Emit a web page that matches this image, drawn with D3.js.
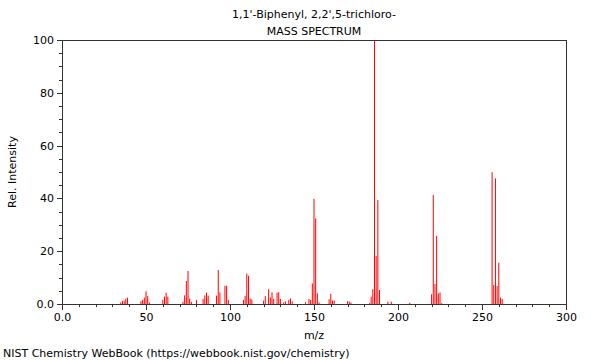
<!DOCTYPE html>
<html>
<head>
<meta charset="utf-8">
<script src="https://cdn.jsdelivr.net/npm/d3@7"></script>
<style>
  body { margin: 0; background: #fff; }
  text { font-family: "DejaVu Sans", sans-serif; fill: #000; }
</style>
</head>
<body>
<svg id="chart" width="600" height="360"></svg>
<script>
const titleLines = ["1,1'-Biphenyl, 2,2',5-trichloro-", "MASS SPECTRUM"];
const xLabel = "m/z";
const yLabel = "Rel. Intensity";
const footer = "NIST Chemistry WebBook (https://webbook.nist.gov/chemistry)";

const mz = [35, 36, 37, 38, 39, 47, 48, 49, 50, 51, 52,
  60, 61, 62, 63, 72, 73, 74, 75, 76, 77, 80, 84, 85, 86, 87,
  92, 93, 94, 97, 98, 99, 108, 109, 110, 111, 112, 113,
  120, 121, 123, 124, 125, 126, 128, 129, 130, 132, 133, 135, 136, 137,
  145, 147, 148, 149, 150, 151, 152, 153, 159, 160, 161, 162,
  170, 171, 172, 183, 184, 185, 186, 187, 188, 189, 194, 196, 207,
  220, 221, 222, 223, 224, 225, 226,
  256, 257, 258, 259, 260, 261, 262];
const intensity = [0.6, 1.1, 1.3, 2.0, 2.4, 1.1, 1.6, 2.4, 4.8, 3.0, 0.6,
  1.5, 2.8, 4.2, 2.8, 0.8, 3.3, 8.7, 12.5, 2.1, 0.8, 1.5, 1.9, 3.2, 4.3, 3.2,
  3.2, 12.9, 4.4, 6.9, 6.9, 1.5, 1.5, 3.1, 11.5, 10.7, 2.1, 1.7,
  1.3, 3.0, 5.6, 2.5, 4.4, 1.9, 4.3, 4.5, 1.9, 0.6, 1.0, 1.6, 2.1, 1.0,
  0.7, 1.9, 1.5, 7.8, 39.8, 32.4, 4.0, 0.6, 1.8, 3.8, 1.3, 1.3,
  1.1, 0.9, 0.5, 0.3, 2.8, 5.6, 100, 18.2, 39.4, 5.3, 0.9, 0.9, 0.5,
  3.7, 41.3, 7.6, 25.8, 4.0, 4.4, 0.3,
  49.9, 7.2, 47.6, 6.8, 15.6, 2.4, 1.9];

const xMajorTicks = [0, 50, 100, 150, 200, 250, 300];
const xMajorLabels = ["0.0", "50", "100", "150", "200", "250", "300"];
const yMajorTicks = [0, 20, 40, 60, 80, 100];
const yMajorLabels = ["0.0", "20", "40", "60", "80", "100"];

const svg = d3.select("#chart");
const margin = {left: 62, right: 34, top: 40, bottom: 56};
const W = 600, H = 360;
const x = d3.scaleLinear().domain([0, 300]).range([margin.left, W - margin.right]);
const y = d3.scaleLinear().domain([0, 100]).range([H - margin.bottom, margin.top]);

// peaks
const peaks = mz.map((m, i) => ({m, v: intensity[i]}));
svg.append("g").selectAll("line").data(peaks).join("line")
  .attr("x1", d => x(d.m)).attr("x2", d => x(d.m))
  .attr("y1", y(0)).attr("y2", d => y(d.v))
  .attr("stroke", "#ff0000").attr("stroke-width", 1);

const axisColor = "#333";
// frame
svg.append("rect")
  .attr("x", x(0)).attr("y", y(100))
  .attr("width", x(300) - x(0)).attr("height", y(0) - y(100))
  .attr("fill", "none").attr("stroke", axisColor).attr("stroke-width", 1)
  .attr("shape-rendering", "crispEdges");

// x axis: minor ticks every 10, major every 50
const xMinor = d3.range(0, 301, 10).filter(v => v % 50 !== 0);
const xAxisMinor = d3.axisBottom(x).tickValues(xMinor).tickSize(3).tickFormat("");
const xAxisMajor = d3.axisBottom(x).tickValues(xMajorTicks).tickSize(6)
  .tickFormat((d, i) => xMajorLabels[i]).tickPadding(3);
const gxm = svg.append("g").attr("transform", `translate(0,${y(0)})`).call(xAxisMinor);
const gx = svg.append("g").attr("transform", `translate(0,${y(0)})`).call(xAxisMajor);
[gxm, gx].forEach(g => {
  g.select(".domain").remove();
  g.selectAll("line").attr("stroke", axisColor).attr("shape-rendering", "crispEdges");
});
gx.selectAll("text").attr("font-size", 11).attr("font-family", "DejaVu Sans").attr("fill", "#000");

// y axis: minor every 5, major every 20
const yMinor = d3.range(0, 101, 5).filter(v => v % 20 !== 0);
const yAxisMinor = d3.axisLeft(y).tickValues(yMinor).tickSize(3).tickFormat("");
const yAxisMajor = d3.axisLeft(y).tickValues(yMajorTicks).tickSize(5)
  .tickFormat((d, i) => yMajorLabels[i]).tickPadding(3);
const gym = svg.append("g").attr("transform", `translate(${x(0)},0)`).call(yAxisMinor);
const gy = svg.append("g").attr("transform", `translate(${x(0)},0)`).call(yAxisMajor);
[gym, gy].forEach(g => {
  g.select(".domain").remove();
  g.selectAll("line").attr("stroke", axisColor).attr("shape-rendering", "crispEdges");
});
gy.selectAll("text").attr("font-size", 11).attr("font-family", "DejaVu Sans").attr("fill", "#000");

// titles
svg.selectAll(".title").data(titleLines).join("text")
  .attr("class", "title")
  .attr("x", (x(0) + x(300)) / 2).attr("y", (d, i) => 18 + i * 17)
  .attr("text-anchor", "middle").attr("font-size", 11)
  .text(d => d);

svg.append("text").attr("x", (x(0) + x(300)) / 2).attr("y", 339)
  .attr("text-anchor", "middle").attr("font-size", 11).text(xLabel);

svg.append("text")
  .attr("transform", `translate(16,${(y(0) + y(100)) / 2}) rotate(-90)`)
  .attr("text-anchor", "middle").attr("font-size", 11).text(yLabel);

svg.append("text").attr("x", 3).attr("y", 357)
  .attr("font-size", 11).text(footer);
</script>
</body>
</html>
